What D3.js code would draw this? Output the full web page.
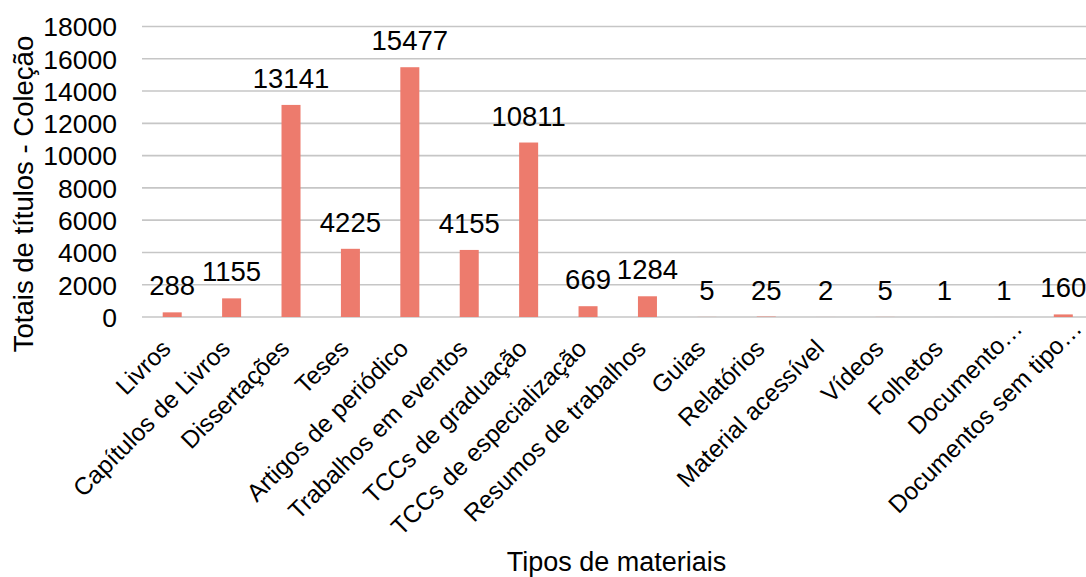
<!DOCTYPE html>
<html>
<head>
<meta charset="utf-8">
<script src="https://cdn.jsdelivr.net/npm/d3@7"></script>
<style>
  html, body { margin: 0; padding: 0; background: #ffffff; }
  svg { display: block; font-family: "Liberation Sans", Arial, sans-serif; }
</style>
</head>
<body>
<svg id="chart" width="1086" height="577"></svg>
<script>
const categories = [
  "Livros", "Capítulos de Livros", "Dissertações", "Teses", "Artigos de periódico",
  "Trabalhos em eventos", "TCCs de graduação", "TCCs de especialização",
  "Resumos de trabalhos", "Guias", "Relatórios", "Material acessível",
  "Vídeos", "Folhetos", "Documento…", "Documentos sem tipo…"
];
const values = [288, 1155, 13141, 4225, 15477, 4155, 10811, 669, 1284, 5, 25, 2, 5, 1, 1, 160];
const yTicks = [0, 2000, 4000, 6000, 8000, 10000, 12000, 14000, 16000, 18000];
const yTitle = "Totais de títulos - Coleção";
const xTitle = "Tipos de materiais";

const svg = d3.select("#chart");
const W = 1086, H = 577;
svg.append("rect").attr("width", W).attr("height", H).attr("fill", "#fff");

const x = d3.scaleBand().domain(categories).range([142.5, 1093]).paddingInner(0.68).paddingOuter(0.34);
const y = d3.scaleLinear().domain([0, 18000]).range([317, 26.5]);

// gridlines
svg.append("g").selectAll("line").data(yTicks).join("line")
  .attr("x1", 142).attr("x2", W)
  .attr("y1", d => y(d)).attr("y2", d => y(d))
  .attr("stroke", "#c6c6c6").attr("stroke-width", 1.6);

// y axis labels
const yAxis = d3.axisLeft(y).tickValues(yTicks).tickSize(0).tickPadding(0).tickFormat(d3.format("d"));
const gy = svg.append("g").attr("transform", "translate(117,0)").call(yAxis);
gy.select(".domain").remove();
gy.selectAll("text").attr("font-size", 26.5).attr("fill", "#000")
  .attr("font-family", "'Liberation Sans', Arial, sans-serif").attr("dy", "0.35em");

// bars
svg.append("g").selectAll("rect").data(values).join("rect")
  .attr("x", (d, i) => x(categories[i]))
  .attr("width", x.bandwidth())
  .attr("y", d => y(d))
  .attr("height", d => y(0) - y(d))
  .attr("fill", "#ED7B6D");

// data labels
svg.append("g").selectAll("text").data(values).join("text")
  .attr("x", (d, i) => x(categories[i]) + x.bandwidth() / 2)
  .attr("y", d => y(d) - 17)
  .attr("text-anchor", "middle")
  .attr("font-size", 27.5)
  .attr("fill", "#000")
  .text(d => d);

// x axis labels (truncated labels sit slightly further up-right, as in the source)
const xAxis = d3.axisBottom(x).tickSize(0).tickPadding(0);
const gx = svg.append("g").attr("transform", "translate(0,350)").call(xAxis);
gx.select(".domain").remove();
gx.selectAll("text")
  .attr("font-size", 24.5).attr("fill", "#000")
  .attr("font-family", "'Liberation Sans', Arial, sans-serif")
  .attr("text-anchor", "end")
  .attr("y", 0)
  .attr("dy", "0")
  .attr("transform", d => d.endsWith("…") ? "translate(20,-20) rotate(-45)" : "translate(0,0) rotate(-45)");

// axis titles
svg.append("text")
  .attr("transform", "translate(33,194) rotate(-90)")
  .attr("text-anchor", "middle")
  .attr("font-size", 27.5)
  .attr("fill", "#000")
  .text(yTitle);

svg.append("text")
  .attr("x", 616.5).attr("y", 571)
  .attr("text-anchor", "middle")
  .attr("font-size", 27)
  .attr("fill", "#000")
  .text(xTitle);
</script>
</body>
</html>
